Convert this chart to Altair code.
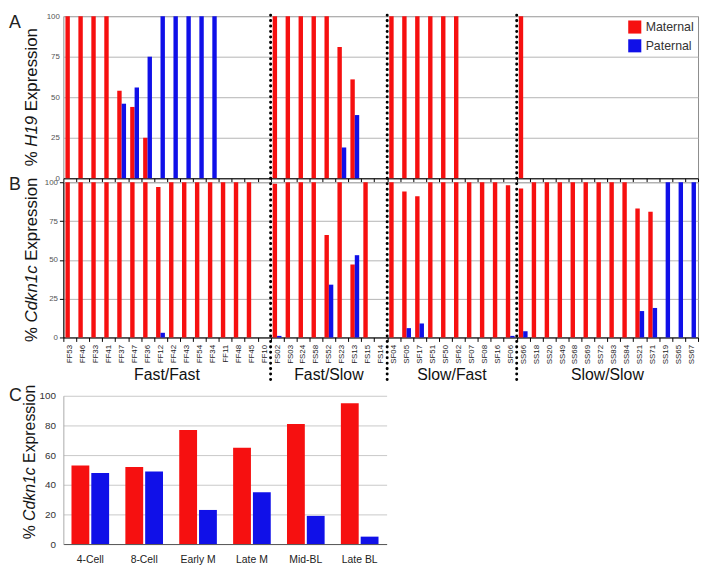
import altair as alt
import pandas as pd

# ---------------- data ----------------
samples = ["FF53", "FF46", "FF33", "FF41", "FF37", "FF47", "FF36", "FF12", "FF42", "FF43",
           "FF54", "FF34", "FF11", "FF48", "FF45", "FF10",
           "FS02", "FS03", "FS24", "FS58", "FS52", "FS23", "FS13", "FS15", "FS14",
           "SF04", "SF05", "SF17", "SF51", "SF50", "SF62", "SF07", "SF08", "SF16", "SF06",
           "SS66", "SS18", "SS20", "SS49", "SS68", "SS69", "SS72", "SS83", "SS84", "SS21",
           "SS71", "SS19", "SS65", "SS67"]
groups = ["Fast/Fast", "Fast/Slow", "Slow/Fast", "Slow/Slow"]
group_sizes = [16, 9, 10, 14]
parents = ["Maternal", "Paternal"]

h19_maternal = [100, 100, 100, 100, 54, 44, 25, None, None, None, None, None, None, None, None, None,
                100, 100, 100, 100, 100, 81, 61, None, None,
                100, 100, 100, 100, 100, 100, None, None, None, None,
                100, None, None, None, None, None, None, None, None, None, None, None, None, None]
h19_paternal = [None, None, None, None, 46, 56, 75, 100, 100, 100, 100, 100, None, None, None, None,
                None, None, None, None, None, 19, 39, None, None,
                None, None, None, None, None, None, None, None, None, None,
                None, None, None, None, None, None, None, None, None, None, None, None, None, None]
cdkn1c_maternal = [100, 100, 100, 100, 100, 100, 100, 97, 100, 100, 100, 100, 100, 100, 100, None,
                   99, 100, 100, 100, 66, 100, 47, 100, None,
                   100, 94, 91, 100, 100, 100, 100, 100, 100, 98,
                   96, 100, 100, 100, 100, 100, 100, 100, 100, 83, 81, None, None, None]
cdkn1c_paternal = [None, None, None, None, None, None, None, 3, None, None, None, None, None, None, None, None,
                   1, None, None, None, 34, None, 53, None, None,
                   None, 6, 9, None, None, None, None, None, None, 1,
                   4, None, None, None, None, None, None, None, None, 17, 19, 100, 100, 100]

stages = ["4-Cell", "8-Cell", "Early M", "Late M", "Mid-BL", "Late BL"]
stage_maternal = [53, 52, 77, 65, 81, 95]
stage_paternal = [48, 49, 23, 35, 19, 5]

colors = ["#f61010", "#1010e8"]

# ---------------- layout constants ----------------
FONT = "Liberation Sans"
W, WC = 642, 327
HA, HB, HC, CTOP = 164, 157, 150, 55
N = len(samples)

AW = {'%': 889, ' ': 278, 'H': 722, '1': 556, '9': 556, 'E': 667, 'x': 500, 'p': 556,
      'r': 333, 'e': 556, 's': 500, 'i': 222, 'o': 556, 'n': 556, 'C': 722, 'd': 556,
      'k': 500, 'c': 500}


def tw(s, fs):
    return sum(AW[ch] for ch in s) * fs / 1000.0


def long_df(keys, vm, vp, keyname):
    rows = []
    for k, m, p in zip(keys, vm, vp):
        if m is not None:
            rows.append({keyname: k, "parent": "Maternal", "v": m})
        if p is not None:
            rows.append({keyname: k, "parent": "Paternal", "v": p})
    return pd.DataFrame(rows)


def ytitle(parts, xpos, ycenter, fs):
    total = sum(tw(t, fs) for t, _ in parts)
    y = ycenter + total / 2
    out = []
    for t, style in parts:
        if style is not None:
            out.append(
                alt.Chart(pd.DataFrame({"t": [t]}))
                .mark_text(angle=270, align="left", baseline="middle", fontSize=fs,
                           font=FONT, fontStyle=style, color="#151515")
                .encode(text="t:N", x=alt.value(xpos), y=alt.value(y))
            )
        y -= tw(t, fs)
    return out


def panel_label(letter, y):
    return (alt.Chart(pd.DataFrame({"t": [letter]}))
            .mark_text(align="left", baseline="top", fontSize=18, font=FONT, color="#222")
            .encode(text="t:N", x=alt.value(-55), y=alt.value(y)))


grp = pd.DataFrame({"group": groups, "size": group_sizes})
grp["end"] = grp["size"].cumsum()
grp["center"] = grp["end"] - grp["size"] / 2
sep_df = grp.iloc[:-1][["end"]]

qscale = alt.Scale(domain=[0, N], nice=False, zero=False)


def separators(y_top, y_bot):
    return (alt.Chart(sep_df)
            .mark_rule(color="black", strokeWidth=3, strokeDash=[0.1, 5.4], strokeCap="round")
            .encode(x=alt.X("end:Q", scale=qscale, axis=None),
                    y=alt.value(y_top), y2=alt.value(y_bot)))


color_scale = alt.Scale(domain=parents, range=colors)
xoff = alt.XOffset("parent:N", sort=parents,
                   scale=alt.Scale(domain=parents, paddingInner=0, paddingOuter=0.47))
xsamp = alt.Scale(domain=samples, paddingInner=0, paddingOuter=0)

# ---------------- panel A ----------------
dfa = long_df(samples, h19_maternal, h19_paternal, "sample")
bars_a = alt.Chart(dfa).mark_bar().encode(
    x=alt.X("sample:N", sort=samples, scale=xsamp,
            axis=alt.Axis(title=None, labels=False, ticks=True, tickBand="extent", tickSize=4,
                          tickColor="#000", domainColor="#000")),
    xOffset=xoff,
    y=alt.Y("v:Q", scale=alt.Scale(domain=[0, 100], nice=False),
            axis=alt.Axis(title=None, values=[0, 25, 50, 75, 100], labelFontSize=8, labelFont=FONT,
                          labelColor="#555", grid=True, gridColor="#b4b4b4", domain=False,
                          ticks=False, labelPadding=4)),
    color=alt.Color("parent:N", scale=color_scale,
                    legend=alt.Legend(title=None, orient="top-right", symbolType="square",
                                      symbolSize=175, symbolStrokeWidth=0, symbolOpacity=1,
                                      labelFontSize=12.5, labelFont=FONT, labelColor="#333",
                                      rowPadding=5, offset=4, padding=0)),
)
parts_h19 = [("%", "normal"), (" ", None), ("H19", "italic"), (" ", None), ("Expression", "normal")]
panel_a = alt.layer(bars_a, separators(-1, HA), panel_label("A", -2),
                    *ytitle(parts_h19, -32, HA / 2, 17)).resolve_scale(x="independent").properties(
    width=W, height=HA, view=alt.ViewBackground(stroke="#8c8c8c"))

# ---------------- panel B ----------------
dfb = long_df(samples, cdkn1c_maternal, cdkn1c_paternal, "sample")
bars_b = alt.Chart(dfb).mark_bar().encode(
    x=alt.X("sample:N", sort=samples, scale=xsamp,
            axis=alt.Axis(title=None, labelAngle=270, labelFontSize=8, labelFont=FONT,
                          labelColor="#222", labelPadding=3, ticks=True, tickBand="extent",
                          tickSize=4, tickColor="#000", domainColor="#000")),
    xOffset=xoff,
    y=alt.Y("v:Q", scale=alt.Scale(domain=[0, 100], nice=False),
            axis=alt.Axis(title=None, values=[0, 25, 50, 75, 100], labelFontSize=8, labelFont=FONT,
                          labelColor="#555", grid=True, gridColor="#b4b4b4", domain=True,
                          domainColor="#000", ticks=True, tickColor="#000", tickSize=4,
                          labelPadding=2)),
    color=alt.Color("parent:N", scale=color_scale, legend=None),
)
group_labels = alt.Chart(grp).mark_text(fontSize=16, font=FONT, baseline="alphabetic",
                                        color="#111").encode(
    x=alt.X("center:Q", scale=qscale, axis=None), y=alt.value(HB + 43), text="group:N")
parts_cdk = [("%", "normal"), (" ", None), ("Cdkn1c", "italic"), (" ", None), ("Expression", "normal")]
panel_b = alt.layer(bars_b, separators(-4, HB + 44), group_labels, panel_label("B", -6),
                    *ytitle(parts_cdk, -32, HB / 2, 17)).resolve_scale(x="independent").properties(
    width=W, height=HB, view=alt.ViewBackground(stroke="#8c8c8c"))

# ---------------- panel C ----------------
dfc = long_df(stages, stage_maternal, stage_paternal, "stage")
bars_c = alt.Chart(dfc).mark_bar().encode(
    x=alt.X("stage:N", sort=stages, scale=alt.Scale(domain=stages, paddingInner=0, paddingOuter=0),
            axis=alt.Axis(title=None, labelAngle=0, ticks=False, labelFontSize=10.5, labelFont=FONT,
                          labelColor="#222", labelPadding=11, domainColor="#555")),
    xOffset=alt.XOffset("parent:N", sort=parents,
                        scale=alt.Scale(domain=parents, paddingInner=0.1, paddingOuter=0.41)),
    y=alt.Y("v:Q", scale=alt.Scale(domain=[0, 100], nice=False, range=[CTOP + HC, CTOP]),
            axis=alt.Axis(title=None, values=[0, 20, 40, 60, 80, 100], labelFontSize=10,
                          labelFont=FONT, labelColor="#333", grid=True, gridColor="#c8c8c8",
                          domain=True, domainColor="#aaaaaa", ticks=False, labelPadding=8)),
    color=alt.Color("parent:N", scale=color_scale, legend=None),
)
panel_c = alt.layer(bars_c, panel_label("C", CTOP - 9),
                    *ytitle(parts_cdk, -34, CTOP + 67, 16)).properties(
    width=WC, height=CTOP + HC, view=alt.ViewBackground(stroke="transparent"))

chart = alt.vconcat(panel_a, panel_b, panel_c, spacing=4, bounds="flush").resolve_scale(
    x="independent", y="independent", xOffset="independent", color="independent"
).properties(padding={"left": 0, "top": 0, "right": 2, "bottom": 2}).configure(
    font=FONT
).configure_view(strokeWidth=1)

chart.save("out.html", embed_options={"renderer": "svg", "actions": False})
